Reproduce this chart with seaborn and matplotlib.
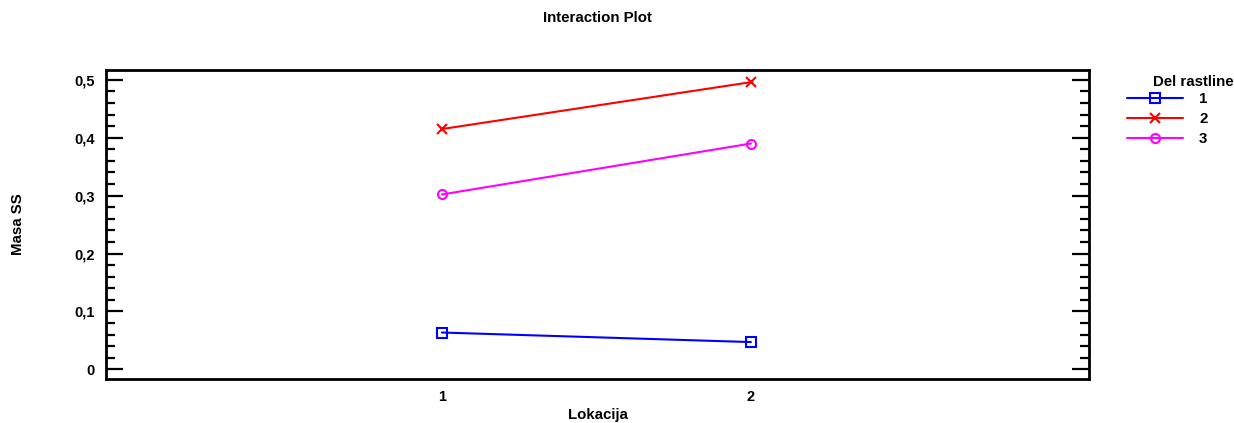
import matplotlib
matplotlib.use("Agg")
import matplotlib.pyplot as plt
import seaborn as sns
import pandas as pd
from matplotlib.ticker import MultipleLocator, FuncFormatter

locations = [1, 2]
groups = ["1", "2", "3"]
values_1 = [0.0635, 0.047]
values_2 = [0.415, 0.496]
values_3 = [0.302, 0.390]
colors = ["#0000ff", "#ff0000", "#ff00ff"]
markers = ["s", "x", "o"]

sns.set_theme(style="white")
plt.rcParams["font.family"] = ["Liberation Sans", "DejaVu Sans"]
plt.rcParams["text.color"] = "black"
plt.rcParams["xtick.color"] = "black"
plt.rcParams["ytick.color"] = "black"
plt.rcParams["axes.labelcolor"] = "black"

df = pd.DataFrame({
    "Lokacija": locations * 3,
    "Masa SS": values_1 + values_2 + values_3,
    "Del rastline": [g for g in groups for _ in locations],
})

W, H = 1234, 423
fig = plt.figure(figsize=(W / 100, H / 100), dpi=100)
ax = fig.add_axes([106 / W, 1 - 379 / H, (1089 - 106) / W, (379 - 70) / H])

for g, c, m in zip(groups, colors, markers):
    sub = df[df["Del rastline"] == g]
    sns.lineplot(data=sub, x="Lokacija", y="Masa SS", ax=ax, color=c, marker=m,
                 markersize=6.5, markerfacecolor="none", markeredgecolor=c,
                 markeredgewidth=1.5, linewidth=1.5, label=g)

ax.set_xlim(-0.087, 3.094)
ax.set_ylim(-0.0168, 0.517)
ax.set_xticks(locations)
ax.set_xticklabels([str(v) for v in locations])
ax.yaxis.set_major_locator(MultipleLocator(0.1))
ax.yaxis.set_minor_locator(MultipleLocator(0.02))
ax.yaxis.set_major_formatter(FuncFormatter(lambda v, p: "0" if abs(v) < 1e-9 else f"{v:.1f}".replace(".", ",")))
ax.tick_params(axis="y", which="major", direction="in", length=12, width=1.6,
               left=True, right=True, labelsize=10.5, pad=8)
ax.tick_params(axis="y", which="minor", direction="in", length=6.5, width=1.6,
               left=True, right=True)
ax.tick_params(axis="x", which="both", length=0, labelsize=10.5, pad=8)
for lbl in ax.get_xticklabels() + ax.get_yticklabels():
    lbl.set_fontweight("bold")
for s in ax.spines.values():
    s.set_linewidth(2)
    s.set_color("black")

ax.set_xlabel("Lokacija", fontsize=10.8, fontweight="bold")
ax.xaxis.set_label_coords(0.5, -(415 - 379) / (379 - 70))
ax.xaxis.label.set_va("center")
ax.set_ylabel("Masa SS", fontsize=10.8, fontweight="bold")
ax.yaxis.set_label_coords(-(106 - 18) / (1089 - 106), 0.5)
ax.yaxis.label.set_va("center")

fig.text(597 / W, 1 - 18 / H, "Interaction Plot", ha="center", va="center",
         fontsize=10.8, fontweight="bold")

leg = ax.legend(loc="upper left",
                bbox_to_anchor=(1127 / W, 1 - 92 / H), bbox_transform=fig.transFigure,
                frameon=False, fontsize=10.8, handlelength=3.7,
                labelspacing=0.4, handletextpad=1.1, borderaxespad=0, borderpad=0)
for t in leg.get_texts():
    t.set_fontweight("bold")
fig.text(1153 / W, 1 - 82 / H, "Del rastline", ha="left", va="center",
         fontsize=10.8, fontweight="bold")

fig.savefig("out.png", dpi=100)
